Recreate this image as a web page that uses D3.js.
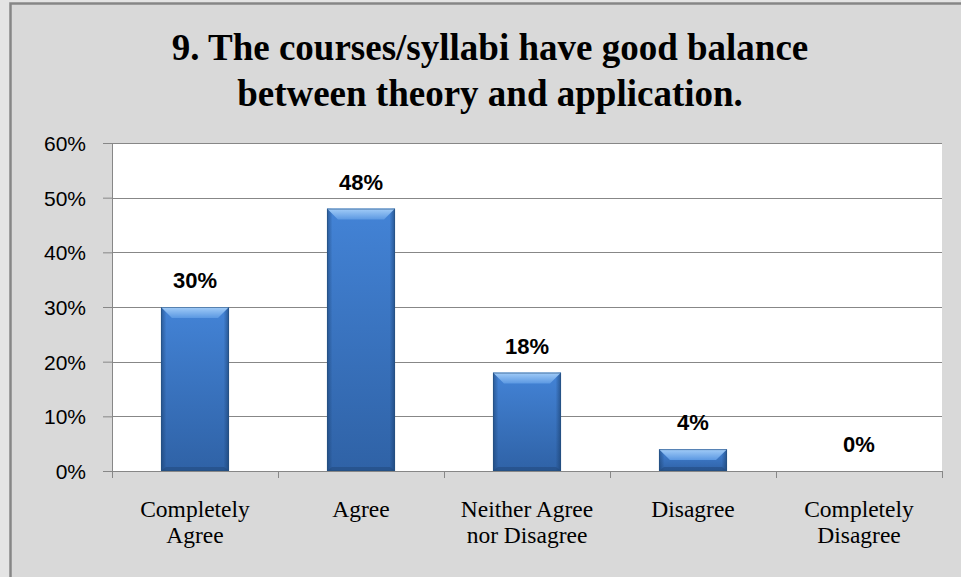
<!DOCTYPE html>
<html>
<head>
<meta charset="utf-8">
<script src="https://cdn.jsdelivr.net/npm/d3@7"></script>
<style>
  html, body { margin: 0; padding: 0; background: #e4e4e4; }
  svg { display: block; }
</style>
</head>
<body>
<div id="chart"></div>
<script>
// data
var categories = [["Completely", "Agree"], ["Agree"], ["Neither Agree", "nor Disagree"], ["Disagree"], ["Completely", "Disagree"]];
var values = [0.30, 0.48, 0.18, 0.04, 0.00];
var yTicks = [0, 0.1, 0.2, 0.3, 0.4, 0.5, 0.6];
var titleLines = ["9. The courses/syllabi have good balance", "between theory and application."];

var W = 961, H = 577;
var margin = { top: 143, right: 19, bottom: 106, left: 112 };
var width = W - margin.left - margin.right, height = H - margin.top - margin.bottom;

var svg = d3.select("#chart").append("svg")
    .attr("width", W).attr("height", H)
    .attr("viewBox", "0 0 " + W + " " + H);

var defs = svg.append("defs");
var g1 = defs.append("linearGradient").attr("id", "barV").attr("x1", 0).attr("y1", 0).attr("x2", 0).attr("y2", 1);
g1.append("stop").attr("offset", "0%").attr("stop-color", "#4383d6");
g1.append("stop").attr("offset", "100%").attr("stop-color", "#2f62a6");
var g2 = defs.append("linearGradient").attr("id", "barH").attr("x1", 0).attr("y1", 0).attr("x2", 1).attr("y2", 0);
g2.append("stop").attr("offset", "0%").attr("stop-color", "#173a66").attr("stop-opacity", 0.55);
g2.append("stop").attr("offset", "8%").attr("stop-color", "#173a66").attr("stop-opacity", 0);
g2.append("stop").attr("offset", "92%").attr("stop-color", "#173a66").attr("stop-opacity", 0);
g2.append("stop").attr("offset", "100%").attr("stop-color", "#173a66").attr("stop-opacity", 0.6);
var g3 = defs.append("linearGradient").attr("id", "bevel").attr("x1", 0).attr("y1", 0).attr("x2", 0).attr("y2", 1);
g3.append("stop").attr("offset", "0%").attr("stop-color", "#a3cdf8");
g3.append("stop").attr("offset", "100%").attr("stop-color", "#5b98e2");

// background + frame
svg.append("rect").attr("x", 10.5).attr("y", 3.5).attr("width", W).attr("height", H)
    .attr("fill", "#d9d9d9").attr("stroke", "#868686").attr("stroke-width", 2.5);

var chart = svg.append("g").attr("transform", "translate(" + margin.left + "," + margin.top + ")");

var x = d3.scaleBand()
    .domain(d3.range(categories.length))
    .range([0, width])
    .paddingInner(0.59)
    .paddingOuter(0.295);
var y = d3.scaleLinear().domain([0, 0.6]).range([height, 0]);

chart.append("rect").attr("width", width).attr("height", height).attr("fill", "#ffffff");

// gridlines
chart.append("g")
    .selectAll("line")
    .data(yTicks.filter(function (d) { return d > 0; }))
    .enter().append("line")
    .attr("x1", 0).attr("x2", width)
    .attr("y1", function (d) { return Math.round(y(d)) + 0.5; })
    .attr("y2", function (d) { return Math.round(y(d)) + 0.5; })
    .attr("stroke", "#878787").attr("stroke-width", 1);

// y axis
var yAxis = chart.append("g")
    .call(d3.axisLeft(y).tickValues(yTicks).tickFormat(d3.format(".0%")).tickSize(9).tickPadding(17));
yAxis.selectAll("line").attr("stroke", "#878787");
yAxis.select(".domain").attr("stroke", "#878787").attr("d", "M0.5," + height + "V0");
yAxis.selectAll("text")
    .style("font-family", "'Liberation Sans', Arial, sans-serif")
    .style("font-size", "21px").attr("fill", "#000").attr("dy", "0.36em");

// x axis: tick marks at band boundaries
var bounds = d3.range(categories.length + 1).map(function (i) { return x.range()[0] + i * x.step(); });
var xAxis = chart.append("g").attr("transform", "translate(0," + height + ")");
xAxis.append("line").attr("x1", 0).attr("x2", width).attr("y1", 0.5).attr("y2", 0.5).attr("stroke", "#878787");
xAxis.selectAll("line.tick")
    .data(bounds).enter().append("line").attr("class", "tick")
    .attr("x1", function (d) { return Math.round(d) + 0.5; })
    .attr("x2", function (d) { return Math.round(d) + 0.5; })
    .attr("y1", 0).attr("y2", 7).attr("stroke", "#878787");

xAxis.selectAll("text.cat")
    .data(categories).enter().append("text").attr("class", "cat")
    .attr("text-anchor", "middle")
    .style("font-family", "'Liberation Serif', 'Times New Roman', serif")
    .style("font-size", "23.5px").attr("fill", "#000")
    .each(function (d, i) {
        var t = d3.select(this);
        d.forEach(function (line, j) {
            t.append("tspan").attr("x", x(i) + x.bandwidth() / 2).attr("y", 46 + j * 26).text(line);
        });
    });

// bars
var bars = chart.append("g").selectAll("g.bar")
    .data(values).enter().append("g").attr("class", "bar")
    .filter(function (d) { return d > 0; });

bars.append("rect")
    .attr("x", function (d) { return x(values.indexOf(d)); })
    .attr("y", function (d) { return y(d); })
    .attr("width", x.bandwidth())
    .attr("height", function (d) { return height - y(d); })
    .attr("fill", "url(#barV)");
bars.append("rect")
    .attr("x", function (d) { return x(values.indexOf(d)); })
    .attr("y", function (d) { return y(d); })
    .attr("width", x.bandwidth())
    .attr("height", function (d) { return height - y(d); })
    .attr("fill", "url(#barH)");
// top bevel
bars.append("path")
    .attr("d", function (d) {
        var x0 = x(values.indexOf(d)), x1 = x0 + x.bandwidth(), y0 = y(d);
        var b = Math.min(11, (height - y(d)) / 2), s = 11;
        return "M" + x0 + "," + y0 + "L" + x1 + "," + y0 + "L" + (x1 - s) + "," + (y0 + b) + "L" + (x0 + s) + "," + (y0 + b) + "Z";
    })
    .attr("fill", "url(#bevel)");
// bottom bevel
bars.append("path")
    .attr("d", function (d) {
        var x0 = x(values.indexOf(d)), x1 = x0 + x.bandwidth(), y1 = height;
        var b = Math.min(4, (height - y(d)) / 4), s = 5;
        return "M" + x0 + "," + y1 + "L" + x1 + "," + y1 + "L" + (x1 - s) + "," + (y1 - b) + "L" + (x0 + s) + "," + (y1 - b) + "Z";
    })
    .attr("fill", "#1f4678").attr("opacity", 0.5);
bars.append("rect")
    .attr("x", function (d) { return x(values.indexOf(d)) + 0.5; })
    .attr("y", function (d) { return y(d) + 0.5; })
    .attr("width", x.bandwidth() - 1)
    .attr("height", function (d) { return height - y(d) - 1; })
    .attr("fill", "none").attr("stroke", "#24507f").attr("stroke-opacity", 0.6);

// data labels
chart.append("g").selectAll("text")
    .data(values).enter().append("text")
    .attr("x", function (d, i) { return x(i) + x.bandwidth() / 2; })
    .attr("y", function (d) { return y(d) - 19; })
    .attr("text-anchor", "middle")
    .style("font-family", "'Liberation Sans', Arial, sans-serif")
    .style("font-weight", "bold").style("font-size", "22px").attr("fill", "#000")
    .text(function (d) { return d3.format(".0%")(d); });

// title
svg.append("text")
    .attr("text-anchor", "middle")
    .style("font-family", "'Liberation Serif', 'Times New Roman', serif")
    .style("font-weight", "bold").style("font-size", "37px").attr("fill", "#000")
    .selectAll("tspan").data(titleLines).enter().append("tspan")
    .attr("x", 490).attr("y", function (d, i) { return 60 + i * 46; })
    .text(function (d) { return d; });
</script>
</body>
</html>
